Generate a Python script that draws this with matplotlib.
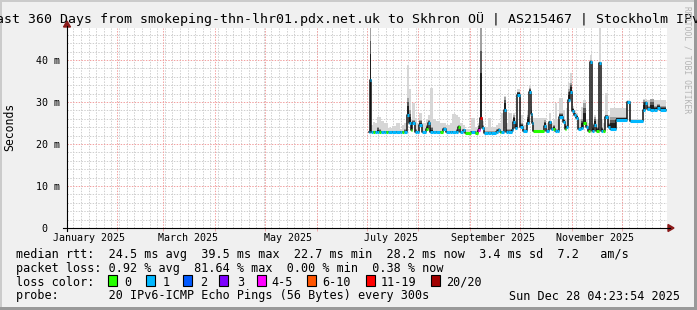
import matplotlib
matplotlib.use("Agg")
import matplotlib.pyplot as plt
from matplotlib.patches import Rectangle, Polygon
from matplotlib.lines import Line2D
import numpy as np

W, H = 697, 310
MONO = "DejaVu Sans Mono"

# time axis in days since Jan 1 2025 00:00
t_start = 1.183    # Jan 2 2025 04:23:54
t_end = 361.183    # Dec 28 2025 04:23:54

# smokeping samples: day, median rtt (ms), loss class, top of dark smoke, top of light smoke
day = [182.4, 183.0, 183.6, 184.8, 186.0, 187.2, 188.4, 189.6, 191.4, 192.6,
       193.8, 196.2, 198.6, 201.0, 202.2, 203.4, 205.2, 206.4, 207.6, 208.2,
       210.0, 211.2, 212.4, 214.2, 216.6, 217.8, 219.0, 220.8, 222.6, 225.0,
       226.8, 228.6, 231.0, 232.2, 234.6, 235.8, 237.0, 238.8, 240.0, 243.6,
       246.0, 247.8, 249.0, 250.2, 251.4, 253.8, 255.6, 258.6, 259.8, 261.0,
       261.6, 263.4, 264.6, 265.8, 268.2, 268.8, 270.0, 271.2, 273.0, 274.8,
       277.2, 278.4, 279.6, 280.2, 280.8, 287.4, 288.6, 290.4, 291.6, 292.8,
       294.0, 295.2, 296.4, 298.8, 300.0, 300.6, 301.8, 303.0, 304.2, 305.4,
       306.6, 307.8, 309.6, 310.8, 312.6, 313.8, 315.0, 316.2, 317.4, 318.6,
       320.4, 321.6, 322.8, 324.0, 325.8, 327.0, 330.6, 337.2, 339.0, 346.8,
       348.0, 349.2, 351.0, 353.4, 355.2, 357.0]
data_end = 360.6

median = [22.9, 35.2, 22.9, 22.9, 22.9, 22.9, 22.9, 22.9, 22.9, 22.9,
          22.9, 22.9, 22.9, 22.9, 22.9, 22.9, 27.0, 25.0, 23.3, 25.0,
          22.9, 22.9, 24.5, 22.9, 23.5, 24.9, 22.9, 22.9, 22.9, 22.9,
          23.5, 22.9, 22.9, 22.9, 22.9, 24.1, 22.9, 23.3, 22.7, 22.9,
          22.7, 23.3, 26.1, 23.7, 22.7, 22.7, 22.7, 22.9, 23.3, 22.9,
          22.9, 28.1, 22.9, 22.9, 23.3, 25.3, 23.8, 31.7, 24.0, 23.2,
          25.0, 32.5, 27.1, 25.0, 23.2, 24.3, 23.2, 25.3, 23.5, 23.6,
          23.2, 23.2, 26.5, 25.3, 23.5, 24.0, 30.5, 32.5, 27.9, 26.9,
          26.2, 23.6, 23.8, 25.0, 24.0, 23.2, 39.5, 23.2, 24.5, 23.2,
          39.3, 23.2, 23.2, 26.5, 24.0, 23.6, 25.7, 30.1, 25.5, 28.1,
          29.8, 28.3, 28.1, 28.1, 28.6, 28.1]

loss = [1, 1, 1, 0, 1, 1, 0, 1, 1, 0,
        1, 1, 1, 1, 0, 1, 1, 1, 0, 1,
        1, 1, 1, 1, 0, 1, 1, 1, 1, 0,
        1, 1, 1, 1, 1, 0, 1, 1, 0, 1,
        0, 4, 6, 1, 1, 1, 1, 1, 1, 0,
        1, 1, 1, 1, 1, 1, 1, 1, 1, 1,
        1, 1, 1, 1, 0, 1, 1, 1, 1, 0,
        1, 1, 1, 1, 0, 1, 1, 1, 1, 1,
        1, 1, 1, 0, 1, 0, 1, 1, 1, 0,
        1, 1, 0, 1, 1, 1, 1, 1, 1, 1,
        1, 1, 1, 1, 1, 1]

dark_top = [22.9, 47.6, 23.2, 23.0, 23.2, 24.0, 23.5, 23.0, 23.0, 23.0,
            23.0, 23.0, 23.0, 23.0, 23.0, 23.5, 31.0, 28.0, 24.0, 25.7,
            23.5, 23.0, 25.7, 23.2, 24.5, 25.7, 24.0, 23.0, 23.0, 23.0,
            24.0, 23.0, 23.0, 23.2, 23.5, 24.5, 23.2, 23.5, 22.9, 23.0,
            23.0, 24.5, 47.6, 24.5, 23.0, 23.0, 23.0, 23.5, 23.8, 23.0,
            23.2, 31.3, 23.5, 23.5, 24.0, 26.9, 25.0, 32.5, 25.0, 23.5,
            27.0, 33.3, 28.0, 25.5, 23.3, 25.7, 23.5, 25.5, 24.0, 24.6,
            23.5, 23.5, 27.4, 26.0, 24.0, 24.5, 33.0, 34.5, 28.6, 27.5,
            26.9, 24.0, 26.0, 29.8, 24.5, 23.5, 40.0, 24.0, 26.5, 24.0,
            39.5, 24.0, 23.5, 26.9, 25.0, 26.5, 26.5, 30.3, 25.7, 30.5,
            30.2, 29.0, 30.7, 29.0, 29.5, 29.0]

smoke_top = [23.5, 47.6, 24.5, 25.3, 25.0, 26.5, 26.5, 25.5, 24.9, 24.9,
             23.8, 24.2, 24.9, 23.5, 24.5, 24.9, 38.8, 33.0, 26.0, 29.8,
             26.2, 25.0, 27.4, 25.0, 26.0, 27.0, 33.3, 26.0, 25.5, 25.0,
             25.0, 24.5, 25.0, 27.2, 26.9, 26.5, 25.0, 24.5, 23.5, 26.2,
             24.0, 25.0, 47.6, 25.5, 24.0, 26.2, 24.0, 24.5, 25.0, 25.0,
             27.4, 31.5, 25.0, 27.4, 26.0, 27.5, 26.0, 33.2, 27.0, 24.5,
             28.0, 34.0, 29.0, 26.0, 26.2, 26.2, 25.0, 27.4, 25.0, 26.0,
             29.8, 26.0, 31.0, 28.0, 26.0, 28.6, 34.5, 36.9, 29.0, 28.0,
             27.5, 26.0, 28.9, 30.5, 26.0, 25.0, 41.2, 25.0, 27.0, 26.0,
             47.6, 26.0, 25.0, 32.1, 27.0, 28.6, 28.6, 30.5, 26.0, 30.6,
             30.6, 30.5, 30.7, 30.5, 30.5, 30.5]

loss_labels = ["0", "1", "2", "3", "4-5", "6-10", "11-19", "20/20"]
loss_colors = ["#26ff00", "#00b8ff", "#0059ff", "#7e00ff", "#ff00ff",
               "#ff5500", "#ff0000", "#a00000"]

month_starts = [31, 59, 90, 120, 151, 181, 212, 243, 273, 304, 334]
label_days = [14.5, 73.5, 134, 195.5, 257, 318]
label_text = ["January 2025", "March 2025", "May 2025", "July 2025",
              "September 2025", "November 2025"]

title = "Last 360 Days from smokeping-thn-lhr01.pdx.net.uk to Skhron OÜ | AS215467 | Stockholm IPv6"

fig = plt.figure(figsize=(W / 100, H / 100), dpi=100, facecolor="#f0f0f0")


def fx(x):
    return x / W


def fy(y):
    return 1 - y / H


# 3d frame
fig.add_artist(Rectangle((0, fy(2)), 1, 2 / H, transform=fig.transFigure,
                         facecolor="#cbcbcb", edgecolor="none"))
fig.add_artist(Rectangle((0, 0), 2 / W, 1, transform=fig.transFigure,
                         facecolor="#cbcbcb", edgecolor="none"))
fig.add_artist(Rectangle((0, 0), 1, 3 / H, transform=fig.transFigure,
                         facecolor="#999999", edgecolor="none"))
fig.add_artist(Rectangle((fx(694), 0), 3 / W, 1, transform=fig.transFigure,
                         facecolor="#999999", edgecolor="none"))

ax = fig.add_axes([fx(67), fy(228), 600 / W, 200 / H])
ax.set_facecolor("white")
ax.set_xlim(t_start, t_end)
ax.set_ylim(0, 47.62)
for s in ax.spines.values():
    s.set_visible(False)

# grid
dots = (0, (1.4, 1.4))
for v in np.arange(2, 47, 2):
    if v % 10:
        ax.axhline(v, color="#cfcfcf", lw=0.72, ls=dots, zorder=0)
for d in np.arange(5, 361, 4.57):
    ax.axvline(d, color="#cfcfcf", lw=0.72, ls=dots, zorder=0)
for v in [10, 20, 30, 40]:
    ax.axhline(v, color="#f2a0a0", lw=0.72, ls=dots, zorder=0.5)
for d in month_starts:
    ax.axvline(d, color="#f2a0a0", lw=0.72, ls=dots, zorder=0.5)

# smoke and median
tt = np.array(day + [data_end])
med = np.array(median + [median[-1]])
dk = np.array(dark_top + [dark_top[-1]])
sm = np.array(smoke_top + [smoke_top[-1]])

ax.fill_between(tt, med, sm, step="post", color="#d6d6d6", lw=0, zorder=1)
for frac, col in [(1.0, "#a0a0a0"), (0.75, "#5a5a5a"), (0.5, "#1e1e1e")]:
    ax.fill_between(tt, med, med + frac * (dk - med), step="post",
                    color=col, lw=0, zorder=1.5)
ax.step(tt, med, where="post", color="#111111", lw=1.1, zorder=2)
ax.hlines(median, day, day[1:] + [data_end],
          colors=[loss_colors[k] for k in loss], lw=2.2, zorder=3)

ax.set_yticks([0, 10, 20, 30, 40])
ax.set_yticklabels(["0  ", "10 m", "20 m", "30 m", "40 m"], family=MONO, fontsize=7.2)
ax.set_xticks(label_days)
ax.set_xticklabels(label_text, family=MONO, fontsize=7.2)
ax.tick_params(axis="both", length=0)
ax.tick_params(axis="y", pad=5)
ax.tick_params(axis="x", pad=3.5)
ax.set_xticks(month_starts, minor=True)
ax.tick_params(axis="x", which="minor", length=2, color="#f2a0a0", direction="out")

fig.text(fx(10), fy(127), "Seconds", rotation=90, ha="center", va="center",
         family=MONO, fontsize=8.3)

# axes with arrows
fig.add_artist(Line2D([fx(63), fx(670)], [fy(228), fy(228)], color="black", lw=0.8))
fig.add_artist(Line2D([fx(67), fx(67)], [fy(231), fy(26)], color="black", lw=0.8))
fig.add_artist(Polygon([(fx(668), fy(224.5)), (fx(668), fy(231.5)), (fx(674), fy(228))],
                       closed=True, transform=fig.transFigure, color="#8b1a1a"))
fig.add_artist(Polygon([(fx(63.5), fy(27)), (fx(70.5), fy(27)), (fx(67), fy(21))],
                       closed=True, transform=fig.transFigure, color="#8b1a1a"))

# title and watermark
fig.text(0.5, fy(19), title, ha="center", va="center", family=MONO, fontsize=9.5)
fig.text(fx(686.5), fy(6), "RRDTOOL / TOBI OETIKER", rotation=270, ha="center",
         va="top", family=MONO, fontsize=5.8, color="#b4b4b4")

# legend
fs = 8.5
fig.text(fx(16), fy(254.3), "median rtt:  24.5 ms avg  39.5 ms max  22.7 ms min  "
         "28.2 ms now  3.4 ms sd  7.2   am/s", va="center", family=MONO, fontsize=fs)
fig.text(fx(16), fy(268.3), "packet loss: 0.92 % avg  81.64 % max  0.00 % min  0.38 % now",
         va="center", family=MONO, fontsize=fs)
fig.text(fx(16), fy(282.3), "loss color:", va="center", family=MONO, fontsize=fs)
box_x = [108, 146, 183, 219, 257, 307, 366, 431]
lab_x = [124, 163, 200, 237, 271, 322, 381, 446]
for bx, lx, lab, col in zip(box_x, lab_x, loss_labels, loss_colors):
    fig.add_artist(Rectangle((fx(bx), fy(285.5)), 8.5 / W, 10.5 / H,
                             transform=fig.transFigure, facecolor=col,
                             edgecolor="black", lw=0.8))
    fig.text(fx(lx), fy(282.3), lab, va="center", family=MONO, fontsize=fs)
fig.text(fx(16), fy(296), "probe:       20 IPv6-ICMP Echo Pings (56 Bytes) every 300s",
         va="center", family=MONO, fontsize=fs)
fig.text(fx(680), fy(296), "Sun Dec 28 04:23:54 2025", ha="right", va="center",
         family=MONO, fontsize=fs)

fig.savefig("out.png", dpi=100, facecolor=fig.get_facecolor())
